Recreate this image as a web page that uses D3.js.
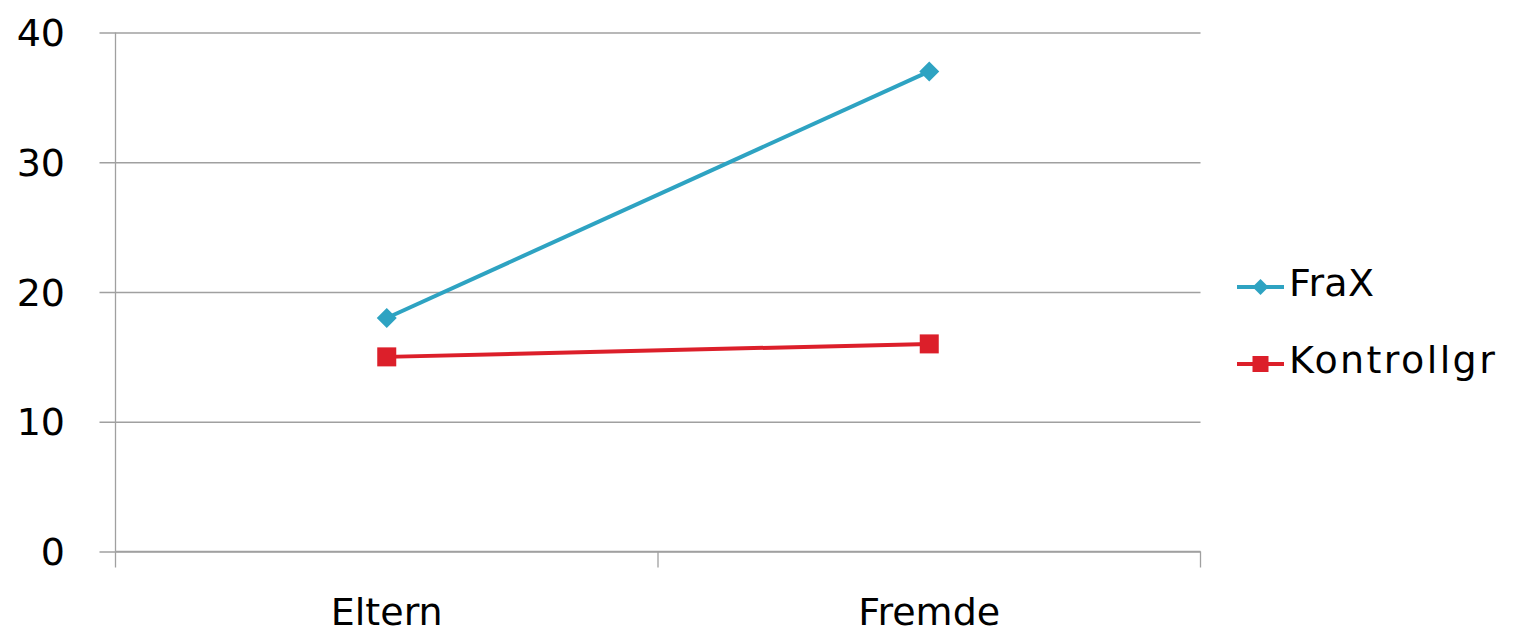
<!DOCTYPE html>
<html>
<head>
<meta charset="utf-8">
<script src="https://cdn.jsdelivr.net/npm/d3@7"></script>
<style>
  html, body { margin: 0; padding: 0; background: #fff; }
  svg { display: block; }
  text { font-family: "DejaVu Sans", sans-serif; fill: #000; }
</style>
</head>
<body>
<svg id="chart" width="1515" height="635"></svg>
<script>
const categories = ["Eltern", "Fremde"];
const fraxValues = [18, 37];
const kontrollValues = [15, 16];
const yTicks = [0, 10, 20, 30, 40];
const seriesNames = ["FraX", "Kontrollgr"];

const series = [
  { name: seriesNames[0], values: fraxValues, color: "#2ea3c2", marker: "diamond" },
  { name: seriesNames[1], values: kontrollValues, color: "#dc1f2a", marker: "square" }
];

const svg = d3.select("#chart");
const plotLeft = 115.5, plotRight = 1200.5, plotTop = 32.5, plotBottom = 551.5;

const y = d3.scaleLinear().domain([0, 40]).range([plotBottom, plotTop]);
const x = d3.scaleBand().domain(categories).range([plotLeft, plotRight]).paddingInner(0).paddingOuter(0);
const xc = d => x(d) + x.bandwidth() / 2;

const gridColor = "#a0a0a0";

// horizontal gridlines with short tick stubs left of the axis
const yAxis = d3.axisLeft(y).tickValues(yTicks).tickSize(-(plotRight - plotLeft)).tickFormat("");
const gy = svg.append("g").attr("transform", `translate(${plotLeft},0)`).call(yAxis);
gy.select(".domain").remove();
gy.selectAll(".tick line").attr("stroke", gridColor).attr("stroke-width", 1.3)
  .attr("x1", -16);

// vertical axis line
svg.append("line").attr("x1", plotLeft).attr("x2", plotLeft).attr("y1", plotTop).attr("y2", plotBottom)
  .attr("stroke", gridColor).attr("stroke-width", 1.3);

// y tick labels
svg.append("g").selectAll("text").data(yTicks).join("text")
  .attr("x", 65).attr("y", d => y(d)).attr("dy", "0.36em")
  .attr("text-anchor", "end").attr("font-size", 38).text(d => d);

// category axis with boundary ticks
const boundaries = [plotLeft, x("Fremde"), plotRight];
svg.append("line").attr("x1", plotLeft).attr("x2", plotRight).attr("y1", plotBottom).attr("y2", plotBottom)
  .attr("stroke", gridColor).attr("stroke-width", 1.3);
svg.append("g").selectAll("line").data(boundaries).join("line")
  .attr("x1", d => d).attr("x2", d => d).attr("y1", plotBottom).attr("y2", plotBottom + 16)
  .attr("stroke", gridColor).attr("stroke-width", 1.3);
svg.append("g").selectAll("text").data(categories).join("text")
  .attr("x", d => xc(d)).attr("y", 625)
  .attr("text-anchor", "middle").attr("font-size", 38).text(d => d);

function drawMarker(g, type, cx, cy, size, color) {
  if (type === "diamond") {
    g.append("path")
      .attr("d", `M${cx},${cy - size}L${cx + size},${cy}L${cx},${cy + size}L${cx - size},${cy}Z`)
      .attr("fill", color);
  } else {
    g.append("rect").attr("x", cx - size).attr("y", cy - size)
      .attr("width", size * 2).attr("height", size * 2).attr("fill", color);
  }
}

const line = d3.line().x((d, i) => xc(categories[i])).y(d => y(d));

series.forEach(s => {
  const g = svg.append("g");
  g.append("path").datum(s.values).attr("d", line)
    .attr("fill", "none").attr("stroke", s.color).attr("stroke-width", 4);
  s.values.forEach((v, i) => {
    drawMarker(g, s.marker, xc(categories[i]), y(v), s.marker === "diamond" ? 10 : 9.5, s.color);
  });
});

// legend
const legendY = [287, 364];
series.forEach((s, i) => {
  const g = svg.append("g");
  g.append("line").attr("x1", 1237).attr("x2", 1284).attr("y1", legendY[i]).attr("y2", legendY[i])
    .attr("stroke", s.color).attr("stroke-width", 4);
  drawMarker(g, s.marker, 1260.5, legendY[i], 8, s.color);
  g.append("text").attr("x", 1289).attr("y", legendY[i] + 8.5)
    .attr("font-size", 38).attr("letter-spacing", i === 1 ? 2.4 : 0.3).text(s.name);
});
</script>
</body>
</html>
